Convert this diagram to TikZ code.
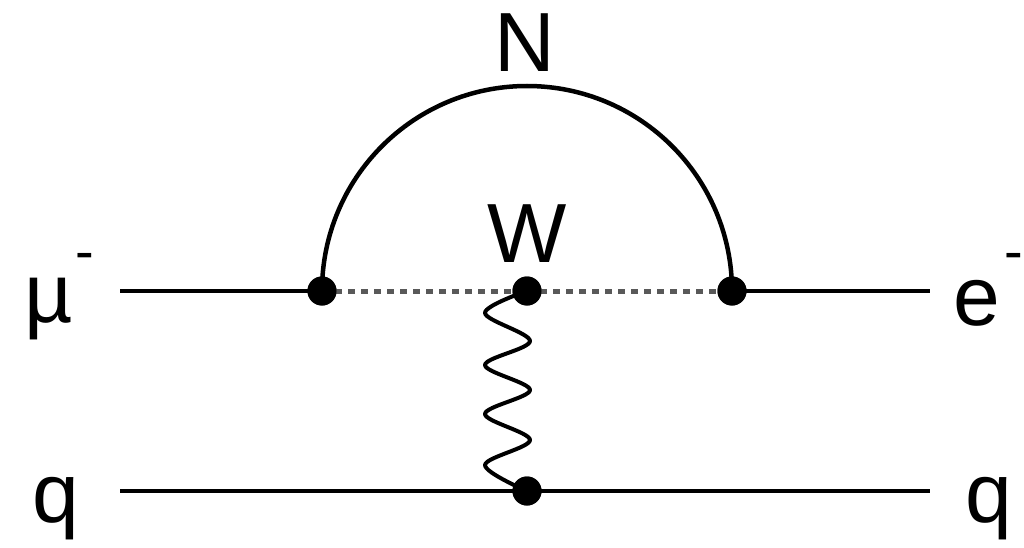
\documentclass[tikz,border=0pt]{standalone}
\usepackage{fontspec}
\setmainfont{Liberation Sans}
\begin{document}
\begin{tikzpicture}[x=1pt,y=1pt,
  vtx/.style={circle,fill=black,inner sep=0pt,minimum size=29pt},
  fermion/.style={line width=4.5pt,black},
  scalar/.style={line width=5pt,black!65,dash pattern=on 7pt off 6pt},
  boson/.style={line width=4pt,black,line join=round,line cap=round},
  lbl/.style={inner sep=0pt,anchor=base,font=\fontsize{84}{84}\selectfont},
  sup/.style={inner sep=0pt,font=\fontsize{56}{56}\selectfont}]
\useasboundingbox (0,0) rectangle (1024,547);
% end points
\coordinate (mul) at (120,256);
\coordinate (er) at (930,256);
\coordinate (ql) at (120,56);
\coordinate (qr) at (930,56);
% vertices
\node[vtx] (a) at (322,256) {};
\node[vtx] (w) at (527,256) {};
\node[vtx] (b) at (732,256) {};
\node[vtx] (c) at (527,56) {};
% lines
\draw[scalar] (a.center) -- (w.center);
\draw[scalar] (w.center) -- (b.center);
\draw[fermion] (mul) -- (a.center);
\draw[fermion] (b.center) -- (er);
\draw[fermion] (ql) -- (c.center);
\draw[fermion] (c.center) -- (qr);
\draw[fermion] (a.center) arc[start angle=180,end angle=0,radius=205];
\draw[boson] plot[smooth,tension=0.55] coordinates {(527,256) (485,234) (530,206) (485,182) (530,157) (485,133) (530,107) (485,82) (527,56)};
% redraw vertices on top
\node[vtx] at (a) {};
\node[vtx] at (w) {};
\node[vtx] at (b) {};
\node[vtx] at (c) {};
% labels
\node[lbl] (lN) at (525,475) {N};
\node[lbl] (lW) at (527,285) {W};
\node[lbl,anchor=base west] (lmu) at (24,225) {µ};
\node[sup] (lmus) at (85,285) {-};
\node[lbl,anchor=base west] (le) at (953,222) {e};
\node[sup] (les) at (1014,285) {-};
\node[lbl,anchor=base west] (lq1) at (32,25) {q};
\node[lbl,anchor=base west] (lq2) at (965,25) {q};
\end{tikzpicture}
\end{document}
